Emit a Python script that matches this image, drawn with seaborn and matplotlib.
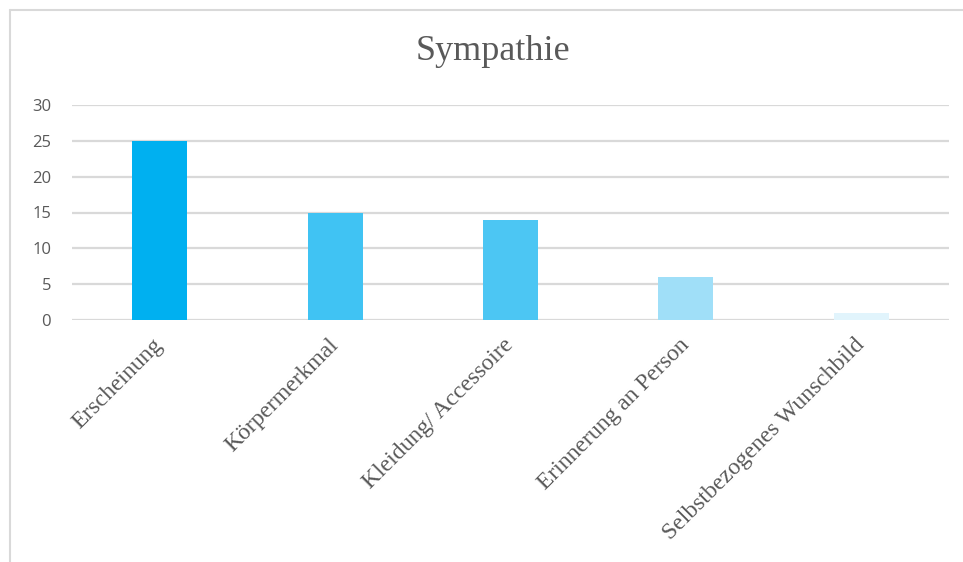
import numpy as np
import pandas as pd
import seaborn as sns
import matplotlib.pyplot as plt
from matplotlib.lines import Line2D

# data
categories = ['Erscheinung', 'Körpermerkmal', 'Kleidung/ Accessoire',
              'Erinnerung an Person', 'Selbstbezogenes Wunschbild']
values = [25, 15, 14, 6, 1]
bar_colors = ['#00B0F0', '#40C3F3', '#4CC6F3', '#A0DFF8', '#E1F4FC']
y_ticks = [0, 5, 10, 15, 20, 25, 30]

df = pd.DataFrame({'Kategorie': categories, 'Wert': values})

sns.set_style('white')
plt.rcParams['font.family'] = ['Liberation Serif', 'DejaVu Serif']

fig = plt.figure(figsize=(9.63, 5.62), dpi=100)
ax = fig.add_axes([72 / 963, (562 - 320) / 562, (949 - 72) / 963, (320 - 105) / 562])

sns.barplot(data=df, x='Kategorie', y='Wert', hue='Kategorie', palette=bar_colors,
            legend=False, width=0.314, saturation=1, linewidth=0, ax=ax, zorder=3)

ax.set_xlim(-0.5, len(categories) - 0.5)
ax.set_ylim(0, 30)
ax.set_yticks(y_ticks)
ax.set_yticklabels([str(t) for t in y_ticks], family=['Open Sans'],
                   fontsize=12, color='#595959')
ax.yaxis.grid(True, color='#D9D9D9', linewidth=1.6, zorder=0)
ax.set_axisbelow(True)
ax.tick_params(axis='y', length=0, pad=15)
ax.tick_params(axis='x', length=0, pad=16)
ax.set_xticks(range(len(categories)))
ax.set_xticklabels(categories, rotation=45, ha='right', va='center',
                   rotation_mode='anchor', fontsize=17, color='#595959')
ax.set_xlabel('')
ax.set_ylabel('')
for s in ax.spines.values():
    s.set_visible(False)

fig.text(493 / 963, 1 - 52 / 562, 'Sympathie', ha='center', va='center',
         fontsize=26, color='#595959')

# outer frame of the chart area
fig.add_artist(Line2D([10 / 963, 1], [1 - 10 / 562, 1 - 10 / 562],
                      transform=fig.transFigure, color='#D9D9D9', linewidth=1.5))
fig.add_artist(Line2D([10 / 963, 10 / 963], [0, 1 - 10 / 562],
                      transform=fig.transFigure, color='#D9D9D9', linewidth=1.5))

fig.savefig('out.png', dpi=100, facecolor='white')
